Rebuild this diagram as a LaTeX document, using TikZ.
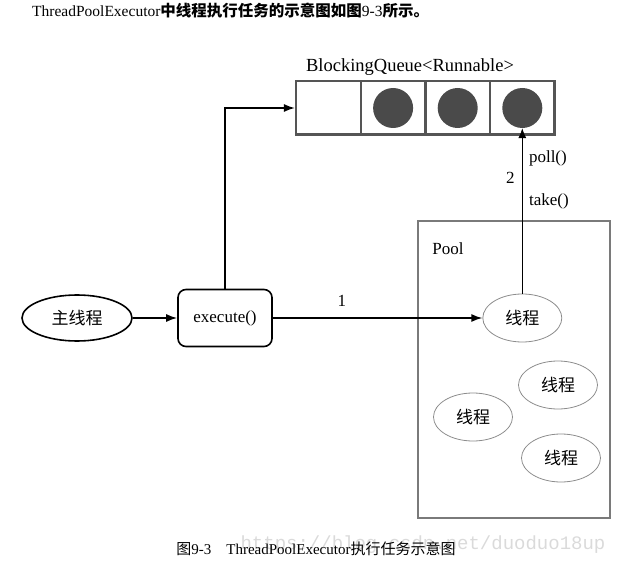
\documentclass[tikz,border=0pt]{standalone}
\usepackage{fontspec}
\setmainfont{Liberation Serif}
\newfontfamily\cjk{Noto Sans CJK SC}
\newfontfamily\wmfont{Liberation Mono}
\usetikzlibrary{arrows.meta,positioning,shapes.geometric}
\definecolor{queuegray}{HTML}{555555}
\definecolor{ballgray}{HTML}{4A4A4A}
\definecolor{poolgray}{HTML}{7A7A7A}
\definecolor{threadgray}{HTML}{8C8C8C}
\definecolor{markgray}{HTML}{DADADA}

\begin{document}
\begin{tikzpicture}[x=1pt, y=-1pt,
  every node/.style={font=\fontsize{17}{20}\selectfont},
  cell/.style={draw=queuegray, line width=2.5pt, minimum width=64.6pt, minimum height=53.5pt, inner sep=0pt},
  ball/.style={circle, fill=ballgray, minimum size=40pt, inner sep=0pt},
  mainthread/.style={ellipse, draw, line width=1.6pt, minimum width=110pt, minimum height=46pt, inner sep=0pt},
  execbox/.style={draw, rounded corners=8pt, line width=1.6pt, minimum width=94pt, minimum height=57pt},
  poolbox/.style={draw=poolgray, line width=2.5pt, minimum width=192pt, minimum height=297pt},
  thread/.style={ellipse, draw=threadgray, line width=0.8pt, minimum width=79pt, minimum height=48pt, inner sep=0pt},
  arr/.style={-{Latex[length=11pt, width=8pt]}, line width=1.6pt},
  thinarr/.style={-{Latex[length=10pt, width=8pt]}, line width=0.8pt}
]
\useasboundingbox (0,0) rectangle (621,564);

% heading and caption
\node[anchor=west, inner sep=0pt, font=\fontsize{15.5}{18}\selectfont] (head) at (32,11)
  {ThreadPoolExecutor{\cjk\bfseries 中线程执行任务的示意图如图}9-3{\cjk\bfseries 所示。}};
\node[text=markgray, font=\wmfont\fontsize{19}{22}\selectfont] (mark) at (423,545) {https://blog.csdn.net/duoduo18up};
\node[font=\fontsize{15}{18}\selectfont] (cap) at (316,549)
  {{\cjk 图}9-3\hspace{1em}ThreadPoolExecutor{\cjk 执行任务示意图}};

% queue
\node[cell] (q1) at (328.5,108) {};
\node[cell, right=-2.5pt of q1] (q2) {};
\node[cell, right=-2.5pt of q2] (q3) {};
\node[cell, right=-2.5pt of q3] (q4) {};
\node[ball] (b2) at (q2) {};
\node[ball] (b3) at (q3) {};
\node[ball] (b4) at (q4) {};
\node[font=\fontsize{18.5}{22}\selectfont] (qlabel) at (410,67) {BlockingQueue<Runnable>};

% caller side
\node[mainthread] (main) at (77,318) {\cjk 主线程};
\node[execbox] (exec) at (225,318) {execute()};

% pool
\node[poolbox] (pool) at (514,369.5) {};
\node (poollabel) at (448,249) {Pool};
\node[thread] (t1) at (522.3,318) {\cjk 线程};
\node[thread] (t2) at (558,385) {\cjk 线程};
\node[thread] (t3) at (473,417) {\cjk 线程};
\node[thread] (t4) at (561,458) {\cjk 线程};

\draw[arr] (main) -- (exec);
\draw[arr] (exec.north) |- (q1.west);
\draw[arr] (exec.east) -- node[above=7pt, pos=0.33]{1} (t1.west);
\draw[thinarr] (t1.north) -- node[right=3pt, pos=0.82]{poll()} node[right=3pt, pos=0.56]{take()}
  node[left=4pt, pos=0.7]{2} (t1.north |- b4.south);
\end{tikzpicture}
\end{document}
